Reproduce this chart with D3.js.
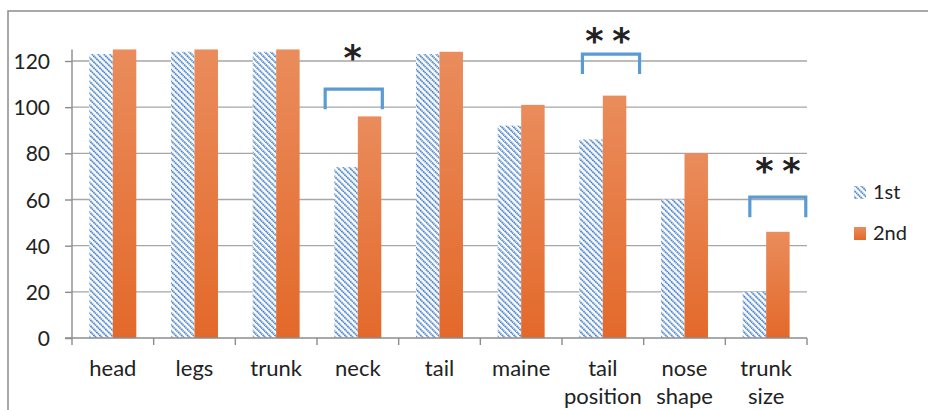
<!DOCTYPE html>
<html lang="en">
<head>
<meta charset="utf-8">
<title>chart</title>
<script src="https://cdn.jsdelivr.net/npm/d3@7"></script>
<style>
  body { margin: 0; background: #fff; }
  svg { display: block; font-family: Lato, "Open Sans", sans-serif; }
</style>
</head>
<body>
<script>
// data
var categories = [["head"], ["legs"], ["trunk"], ["neck"], ["tail"], ["maine"], ["tail", "position"], ["nose", "shape"], ["trunk", "size"]];
var first = [123, 124, 124, 74, 123, 92, 86, 60, 20];
var second = [125, 125, 125, 96, 124, 101, 105, 80, 46];
var seriesNames = ["1st", "2nd"];
var yTicks = [0, 20, 40, 60, 80, 100, 120];
// significance brackets, in category units (from/to/star) and value units
var marks = [
  { from: 3.10, to: 3.80, level: 107.8, low: 99.1, label: "*", sx: 3.437, sy: 124.1 },
  { from: 6.25, to: 6.95, level: 123, low: 114.4, label: "**", sx: 6.562, sy: 131.3 },
  { from: 8.30, to: 8.985, level: 61, low: 52.3, label: "**", sx: 8.643, sy: 74.8 }
];

var w = 928, h = 410;
var svg = d3.select("body").append("svg").attr("width", w).attr("height", h);

var defs = svg.append("defs");
var pat = defs.append("pattern")
  .attr("id", "hatch").attr("patternUnits", "userSpaceOnUse")
  .attr("width", 4.2).attr("height", 4.2)
  .attr("patternTransform", "rotate(-45)");
pat.append("rect").attr("width", 4.2).attr("height", 4.2).attr("fill", "#fff");
pat.append("line").attr("x1", 1).attr("y1", 0).attr("x2", 1).attr("y2", 4.2)
  .attr("stroke", "#3f7ac4").attr("stroke-width", 1.9).attr("stroke-dasharray", "1.5,0.6");

var grad = defs.append("linearGradient").attr("id", "orng")
  .attr("x1", 0).attr("y1", 0).attr("x2", 0).attr("y2", 1);
grad.append("stop").attr("offset", "0%").attr("stop-color", "#ea8c5c");
grad.append("stop").attr("offset", "100%").attr("stop-color", "#e3692a");

// outer frame
svg.append("rect").attr("x", 8).attr("y", 11).attr("width", 940).attr("height", 420)
  .attr("fill", "none").attr("stroke", "#8c8c8c").attr("stroke-width", 1.5);

var x0 = 72, x1 = 807, yBase = 338;

var x = d3.scaleBand().domain(d3.range(categories.length)).range([x0, x1]).paddingInner(0).paddingOuter(0);
var xs = d3.scaleBand().domain([0, 1]).range([0, x.bandwidth()]).paddingInner(0).paddingOuter(0.74);
var xc = d3.scaleLinear().domain([0, categories.length]).range([x0, x1]);
var y = d3.scaleLinear().domain([0, 120]).range([yBase, 61]);

// grid
svg.selectAll(".grid").data(yTicks.slice(1)).enter().append("line")
  .attr("x1", x0).attr("x2", x1)
  .attr("y1", function(d) { return y(d); }).attr("y2", function(d) { return y(d); })
  .attr("stroke", "#a6a6a6").attr("stroke-width", 1.4);

// bars
var g = svg.selectAll(".grp").data(categories).enter().append("g")
  .attr("transform", function(d, i) { return "translate(" + x(i) + ",0)"; });
g.append("rect")
  .attr("x", xs(0)).attr("width", xs.bandwidth())
  .attr("y", function(d, i) { return y(first[i]); })
  .attr("height", function(d, i) { return yBase - y(first[i]); })
  .attr("fill", "url(#hatch)");
g.append("rect")
  .attr("x", xs(1)).attr("width", xs.bandwidth())
  .attr("y", function(d, i) { return y(second[i]); })
  .attr("height", function(d, i) { return yBase - y(second[i]); })
  .attr("fill", "url(#orng)");

// axes
var yAxis = d3.axisLeft(y).tickValues(yTicks).tickSize(7).tickPadding(15);
var ya = svg.append("g").attr("transform", "translate(" + x0 + ",0)").call(yAxis);
ya.select(".domain").remove();
ya.append("line").attr("x1", 0).attr("x2", 0).attr("y1", yBase).attr("y2", y(125))
  .attr("stroke", "#8c8c8c").attr("stroke-width", 1.4);
ya.selectAll(".tick line").attr("stroke", "#8c8c8c").attr("stroke-width", 1.4);
ya.selectAll(".tick text").attr("font-size", 21).attr("fill", "#222").attr("font-family", "Lato, sans-serif")
  .attr("dy", "0.36em");

svg.append("line").attr("x1", x0 - 7).attr("x2", x1).attr("y1", yBase).attr("y2", yBase)
  .attr("stroke", "#8c8c8c").attr("stroke-width", 1.4);
svg.selectAll(".xt").data(d3.range(categories.length + 1)).enter().append("line")
  .attr("x1", function(d) { return xc(d); })
  .attr("x2", function(d) { return xc(d); })
  .attr("y1", yBase).attr("y2", yBase + 7)
  .attr("stroke", "#8c8c8c").attr("stroke-width", 1.4);

var lbl = svg.selectAll(".xl").data(categories).enter().append("text")
  .attr("text-anchor", "middle").attr("font-size", 22).attr("fill", "#222")
  .attr("transform", function(d, i) { return "translate(" + (x(i) + x.bandwidth() / 2) + ",376)"; });
lbl.selectAll("tspan").data(function(d) { return d; }).enter().append("tspan")
  .attr("x", 0).attr("y", function(d, i) { return i * 28; })
  .text(function(d) { return d; });

// significance brackets
marks.forEach(function(m) {
  var bx0 = xc(m.from), bx1 = xc(m.to);
  var yl = y(m.level), ya2 = y(m.low);
  svg.append("path")
    .attr("d", "M" + bx0 + "," + ya2 + "V" + yl + "H" + bx1 + "V" + ya2)
    .attr("fill", "none").attr("stroke", "#5b9bd5").attr("stroke-width", 3.2);
  var chars = m.label.split("");
  var cx = xc(m.sx), cy = y(m.sy);
  chars.forEach(function(c, k) {
    svg.append("text")
      .attr("x", cx + (k - (chars.length - 1) / 2) * 27)
      .attr("y", cy + 18)
      .attr("text-anchor", "middle").attr("font-size", 35).attr("font-weight", "bold")
      .attr("fill", "#222").attr("font-family", "DejaVu Sans")
      .text(c);
  });
});

// legend
var leg = svg.selectAll(".leg").data(seriesNames).enter().append("g")
  .attr("transform", function(d, i) { return "translate(854," + (186 + i * 41) + ")"; });
leg.append("rect").attr("width", 12).attr("height", 13)
  .attr("fill", function(d, i) { return i === 0 ? "url(#hatch)" : "url(#orng)"; });
leg.append("text").attr("x", 19).attr("y", 12.5).attr("font-size", 20).attr("fill", "#222")
  .text(function(d) { return d; });
</script>
</body>
</html>
